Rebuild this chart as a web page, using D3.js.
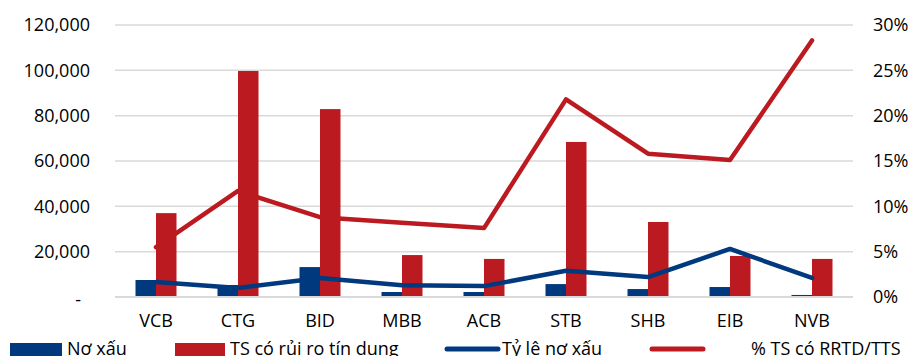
<!DOCTYPE html>
<html>
<head>
<meta charset="utf-8">
<script src="https://cdn.jsdelivr.net/npm/d3@7"></script>
<style>
  html, body { margin: 0; padding: 0; background: #fff; overflow: hidden; }
  svg { display: block; font-family: "Open Sans", sans-serif; }
</style>
</head>
<body>
<svg id="chart" width="911" height="356"></svg>
<script>
// ---- Data ----
const categories = ["VCB", "CTG", "BID", "MBB", "ACB", "STB", "SHB", "EIB", "NVB"];
const noXau = [7500, 5300, 13200, 2200, 2200, 5700, 3500, 4400, 900];            // Nợ xấu
const tsRuiRo = [37000, 99700, 82900, 18500, 16800, 68400, 33100, 18100, 16800];  // TS có rủi ro tín dụng
const tyLeNoXau = [1.65, 1.0, 2.1, 1.3, 1.2, 2.9, 2.2, 5.3, 2.1];                // % Tỷ lệ nợ xấu
const pctTsRrtd = [5.5, 11.7, 8.8, 8.2, 7.6, 21.8, 15.8, 15.1, 28.3];            // % TS có RRTD/TTS
const leftTicks = [0, 20000, 40000, 60000, 80000, 100000, 120000];
const rightTicks = [0, 5, 10, 15, 20, 25, 30];
const legendLabels = ["Nơ xấu", "TS có rủi ro tín dụng", "Tỷ lê nơ xấu", "% TS có RRTD/TTS"];

const NAVY = "#00397d";
const RED = "#bb1a21";

const svg = d3.select("#chart");
const plot = { left: 115, right: 853, top: 25, bottom: 297 };

const x0 = d3.scaleBand().domain(categories).range([plot.left, plot.right]).padding(0);
const x1 = d3.scaleBand().domain(["a", "b"]).range([0, x0.bandwidth() * 0.5]).padding(0);
const yL = d3.scaleLinear().domain([0, 120000]).range([plot.bottom, plot.top]);
const yR = d3.scaleLinear().domain([0, 30]).range([plot.bottom, plot.top]);
const cx = c => x0(c) + x0.bandwidth() / 2;
const groupStart = c => cx(c) - x0.bandwidth() * 0.25;

// Gridlines
svg.append("g").selectAll("line").data(leftTicks.slice(1)).join("line")
  .attr("x1", plot.left).attr("x2", plot.right)
  .attr("y1", d => yL(d)).attr("y2", d => yL(d))
  .attr("stroke", "#d9d9d9").attr("stroke-width", 1.5);

// Bars
svg.append("g").selectAll("rect").data(categories).join("rect")
  .attr("x", c => groupStart(c) + x1("a"))
  .attr("width", x1.bandwidth())
  .attr("y", (c, i) => yL(noXau[i]))
  .attr("height", (c, i) => yL(0) - yL(noXau[i]))
  .attr("fill", NAVY);
svg.append("g").selectAll("rect").data(categories).join("rect")
  .attr("x", c => groupStart(c) + x1("b"))
  .attr("width", x1.bandwidth())
  .attr("y", (c, i) => yL(tsRuiRo[i]))
  .attr("height", (c, i) => yL(0) - yL(tsRuiRo[i]))
  .attr("fill", RED);

// Baseline
svg.append("line")
  .attr("x1", plot.left).attr("x2", plot.right)
  .attr("y1", yL(0)).attr("y2", yL(0))
  .attr("stroke", "#d9d9d9").attr("stroke-width", 2);

// Lines
const lineGen = d3.line().x((d, i) => cx(categories[i])).y(d => yR(d));
svg.append("path").datum(tyLeNoXau).attr("d", lineGen)
  .attr("fill", "none").attr("stroke", NAVY).attr("stroke-width", 4.5)
  .attr("stroke-linejoin", "round").attr("stroke-linecap", "round");
svg.append("path").datum(pctTsRrtd).attr("d", lineGen)
  .attr("fill", "none").attr("stroke", RED).attr("stroke-width", 4.5)
  .attr("stroke-linejoin", "round").attr("stroke-linecap", "round");

// Left axis
const axL = svg.append("g").attr("transform", `translate(${plot.left},0)`)
  .call(d3.axisLeft(yL).tickValues(leftTicks).tickSize(0).tickPadding(25)
    .tickFormat(d => d === 0 ? "-" : d3.format(",")(d)));
axL.select(".domain").remove();
axL.selectAll("text").attr("font-size", 18).attr("fill", "#000")
  .attr("font-family", "Open Sans, sans-serif")
  .filter(d => d === 0).attr("dx", -9).attr("dy", "0.45em");

// Right axis
const axR = svg.append("g").attr("transform", `translate(${plot.right},0)`)
  .call(d3.axisRight(yR).tickValues(rightTicks).tickSize(0).tickPadding(20)
    .tickFormat(d => d + "%"));
axR.select(".domain").remove();
axR.selectAll("text").attr("font-size", 18).attr("fill", "#000")
  .attr("font-family", "Open Sans, sans-serif");

// Bottom axis
const axB = svg.append("g").attr("transform", `translate(0,${plot.bottom})`)
  .call(d3.axisBottom(x0).tickSize(0).tickPadding(17));
axB.select(".domain").remove();
axB.selectAll("text").attr("font-size", 18).attr("fill", "#000")
  .attr("font-family", "Open Sans, sans-serif");

// Legend
const lg = svg.append("g").attr("font-size", 18).attr("fill", "#000");
lg.append("rect").attr("x", 10).attr("y", 343).attr("width", 52).attr("height", 18).attr("fill", NAVY);
lg.append("text").attr("x", 67).attr("y", 355).text(legendLabels[0]);
lg.append("rect").attr("x", 175).attr("y", 343).attr("width", 50).attr("height", 18).attr("fill", RED);
lg.append("text").attr("x", 230).attr("y", 355).text(legendLabels[1]);
lg.append("line").attr("x1", 447).attr("x2", 498).attr("y1", 349).attr("y2", 349)
  .attr("stroke", NAVY).attr("stroke-width", 5).attr("stroke-linecap", "round");
lg.append("text").attr("x", 502).attr("y", 355).text(legendLabels[2]);
lg.append("line").attr("x1", 652).attr("x2", 703).attr("y1", 349).attr("y2", 349)
  .attr("stroke", RED).attr("stroke-width", 5).attr("stroke-linecap", "round");
lg.append("text").attr("x", 751).attr("y", 355).text(legendLabels[3]);
</script>
</body>
</html>
